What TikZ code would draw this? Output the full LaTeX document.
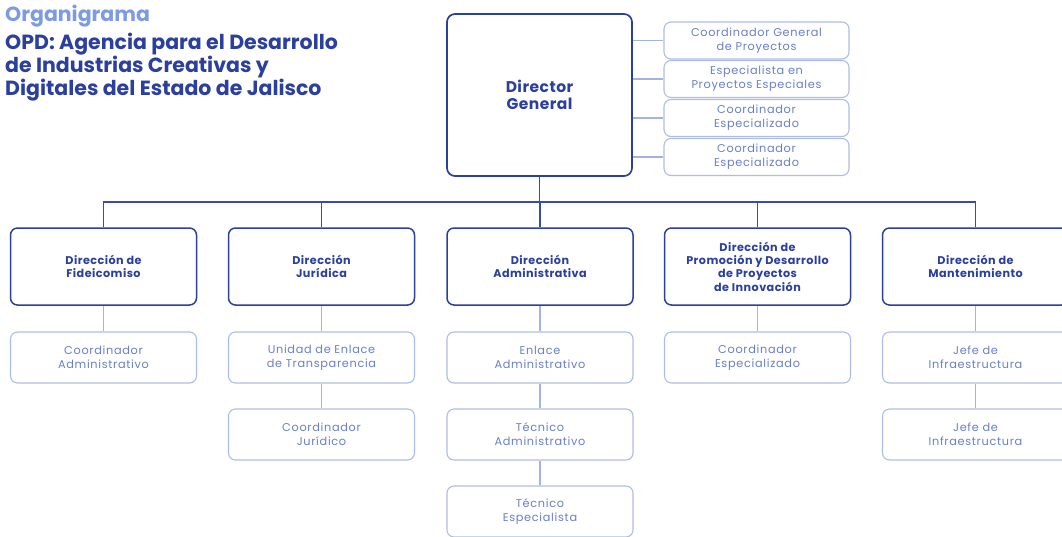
\documentclass[tikz,border=0pt]{standalone}
\usepackage{fontspec}
\setmainfont{Poppins}
\definecolor{dkblue}{HTML}{2B3F9E}
\definecolor{trunk}{HTML}{3A4DA6}
\definecolor{ltline}{HTML}{A3B3E3}
\definecolor{ltborder}{HTML}{AEBDE8}
\definecolor{midtext}{HTML}{6980C8}
\definecolor{titlelt}{HTML}{7D9BE3}
\begin{document}
\begin{tikzpicture}[x=1pt,y=-1pt,
  dirbox/.style={draw=dkblue, line width=1.5pt, rounded corners=7pt, minimum width=186pt, minimum height=77pt, align=center, text=dkblue, font=\fontsize{11.2}{13.3}\selectfont\bfseries\addfontfeatures{LetterSpace=4}, fill=white},
  subbox/.style={draw=ltborder, line width=1.1pt, rounded corners=7pt, minimum width=186pt, minimum height=51pt, align=center, text=midtext, font=\fontsize{11.3}{14}\selectfont\addfontfeatures{LetterSpace=6}, fill=white},
  rbox/.style={draw=ltborder, line width=1.1pt, rounded corners=7pt, minimum width=185pt, minimum height=37pt, align=center, text=midtext, font=\fontsize{11.3}{13.8}\selectfont\addfontfeatures{LetterSpace=6}, fill=white},
  trunkline/.style={draw=trunk, line width=1.3pt},
  ltconn/.style={draw=ltline, line width=1.2pt}]
\useasboundingbox (0,0) rectangle (1062,536);
\fill[white] (0,0) rectangle (1062,536);
% title
\node[anchor=north west, inner sep=0pt, align=left, text=titlelt, font=\fontsize{20.5}{21}\selectfont\bfseries] (t1) at (5,5) {Organigrama};
\node[anchor=north west, inner sep=0pt, align=left, text=dkblue, font=\fontsize{20.5}{21}\selectfont\bfseries] (t2) at (5,33) {OPD: Agencia para el Desarrollo\\de Industrias Creativas y\\Digitales del Estado de Jalisco};
% director
\node[draw=dkblue, line width=1.7pt, rounded corners=8pt, minimum width=185pt, minimum height=162pt, align=center, text=dkblue, font=\fontsize{15.5}{17}\selectfont\bfseries\addfontfeatures{LetterSpace=3}] (dg) at (539.5,95) {Director\\General};
% right boxes
\node[rbox] (r1) at (756.5,40.5) {Coordinador General\\de Proyectos};
\node[rbox] (r2) at (756.5,79) {Especialista en\\Proyectos Especiales};
\node[rbox] (r3) at (756.5,118) {Coordinador\\Especializado};
\node[rbox] (r4) at (756.5,157) {Coordinador\\Especializado};
\foreach \r in {r1,r2,r3,r4} \draw[ltconn] (dg.east |- \r.west) -- (\r.west);
% directions
\node[dirbox] (d1) at (103.5,266.5) {Dirección de\\Fideicomiso};
\node[dirbox] (d2) at (321.5,266.5) {Dirección\\Jurídica};
\node[dirbox] (d3) at (540,266.5) {Dirección\\Administrativa};
\node[dirbox] (d4) at (757.5,266.5) {Dirección de\\Promoción y Desarrollo\\de Proyectos\\de Innovación};
\node[dirbox] (d5) at (975.5,266.5) {Dirección de\\Mantenimiento};
\coordinate (bar) at (540,202);
\draw[trunkline] (dg.south) -- (dg.south |- bar);
\draw[trunkline] (d1.north) |- (bar -| d5.north) -- (d5.north);
\foreach \d in {d2,d3,d4} \draw[trunkline] (\d.north) -- (\d.north |- bar);
% sub boxes
\node[subbox] (s1) at (103.5,357.5) {Coordinador\\Administrativo};
\node[subbox] (s2) at (321.5,357.5) {Unidad de Enlace\\de Transparencia};
\node[subbox] (s2b) at (321.5,434.5) {Coordinador\\Jurídico};
\node[subbox] (s3) at (540,357.5) {Enlace\\Administrativo};
\node[subbox] (s3b) at (540,434.5) {Técnico\\Administrativo};
\node[subbox] (s3c) at (540,511.5) {Técnico\\Especialista};
\node[subbox] (s4) at (757.5,357.5) {Coordinador\\Especializado};
\node[subbox] (s5) at (975.5,357.5) {Jefe de\\Infraestructura};
\node[subbox] (s5b) at (975.5,434.5) {Jefe de\\Infraestructura};
\draw[ltconn] (d1.south) -- (s1.north);
\draw[ltconn] (d2.south) -- (s2.north);
\draw[ltconn] (s2.south) -- (s2b.north);
\draw[ltconn] (d3.south) -- (s3.north);
\draw[ltconn] (s3.south) -- (s3b.north);
\draw[ltconn] (s3b.south) -- (s3c.north);
\draw[ltconn] (d4.south) -- (s4.north);
\draw[ltconn] (d5.south) -- (s5.north);
\draw[ltconn] (s5.south) -- (s5b.north);
\end{tikzpicture}
\end{document}
